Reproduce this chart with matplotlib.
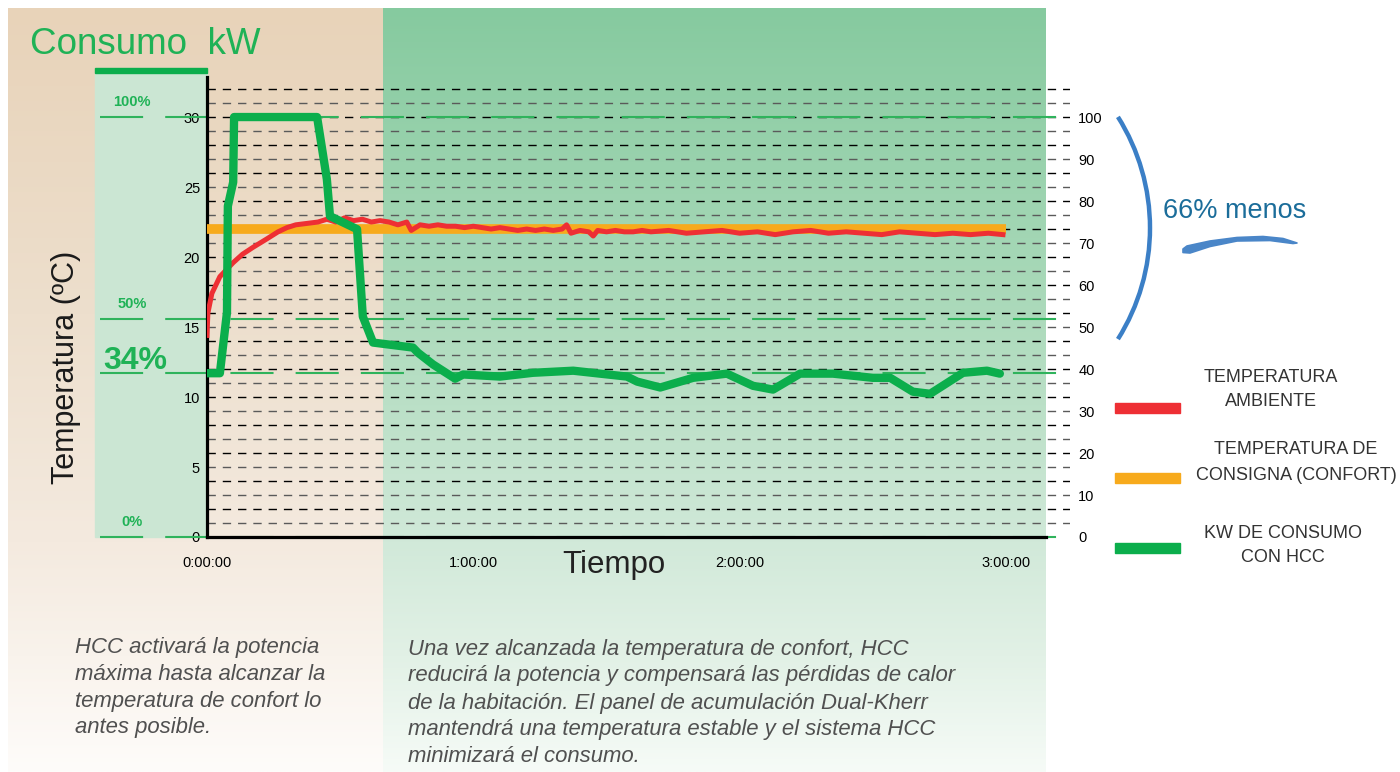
import numpy as np
import matplotlib
matplotlib.use('Agg')
import matplotlib.pyplot as plt
from matplotlib.colors import LinearSegmentedColormap
from matplotlib.patches import Rectangle, Arc

plt.rcParams['font.family'] = ['Liberation Sans', 'DejaVu Sans']

# ---- data (time in minutes) ------------------------------------------------
temp_t = [0, 0.2, 1.1, 2.9, 5.9, 8, 10.4, 13.5, 16, 18,
          20, 22.5, 25, 27, 29, 31, 33, 35, 37, 39,
          41, 43, 45, 46, 48, 50, 52, 54, 56, 58,
          60, 62, 64, 66, 68, 70, 72, 74, 76, 78,
          80, 81, 82, 84, 86, 87, 88, 90, 92, 94,
          96, 98, 100, 104, 108, 112, 116, 120, 124, 128,
          132, 136, 140, 144, 148, 152, 156, 160, 164, 168,
          172, 176, 179.3]
temp_ambiente = [14.4, 16.0, 17.4, 18.6, 19.6, 20.2, 20.7, 21.3, 21.8, 22.1,
                 22.3, 22.4, 22.5, 22.7, 22.5, 22.8, 22.6, 22.7, 22.5, 22.6,
                 22.5, 22.3, 22.5, 21.9, 22.3, 22.2, 22.3, 22.2, 22.2, 22.1,
                 22.2, 22.1, 22.0, 22.1, 22.0, 21.9, 22.0, 21.9, 22.0, 21.9,
                 22.0, 22.3, 21.7, 21.9, 21.8, 21.5, 21.9, 21.8, 21.9, 21.8,
                 21.8, 21.9, 21.8, 21.9, 21.7, 21.8, 21.9, 21.7, 21.8, 21.6,
                 21.8, 21.9, 21.7, 21.8, 21.7, 21.6, 21.8, 21.7, 21.6, 21.7,
                 21.6, 21.7, 21.6]

consigna_t = [0, 180]
consigna = [22, 22]

kw_t = [0, 2.9, 4.5, 4.7, 5.9, 6.1, 24.8, 27.0, 27.7, 33.8,
        35.1, 37.4, 46.4, 47.5, 50.9, 55.9, 57.7, 66.0, 73.4, 82.5,
        88.5, 94.6, 96.9, 102.1, 109.5, 117.1, 123.0, 127.5, 133.6, 141.0,
        150.0, 153.9, 159.0, 162.9, 170.3, 175.7, 178.6]
kw_pct = [39, 39, 53.5, 78.8, 84.5, 100, 100, 85.2, 76.4, 73.3,
          52.5, 46.3, 45.1, 43.9, 41.1, 37.7, 38.7, 38.2, 39.1, 39.6,
          38.9, 38.2, 37.0, 35.6, 37.9, 38.9, 36.0, 35.1, 38.9, 38.9,
          37.9, 37.9, 34.6, 34.1, 39.1, 39.6, 38.9]

level_labels = ['100%', '50%', '34%', '0%']
level_pct = [100, 52, 39, 0]

x_ticks = [0, 60, 120, 180]
x_labels = ['0:00:00', '1:00:00', '2:00:00', '3:00:00']
left_ticks = [0, 5, 10, 15, 20, 25, 30]
right_ticks = [0, 10, 20, 30, 40, 50, 60, 70, 80, 90, 100]

legend_labels = [['TEMPERATURA', 'AMBIENTE'],
                 ['TEMPERATURA DE', 'CONSIGNA (CONFORT)'],
                 ['KW DE CONSUMO', 'CON HCC']]

text_left = ['HCC activará la potencia',
             'máxima hasta alcanzar la',
             'temperatura de confort lo',
             'antes posible.']
text_right = ['Una vez alcanzada la temperatura de confort, HCC',
              'reducirá la potencia y compensará las pérdidas de calor',
              'de la habitación. El panel de acumulación Dual-Kherr',
              'mantendrá una temperatura estable y el sistema HCC',
              'minimizará el consumo.']

RED = '#ee2f34'
ORANGE = '#f7aa1c'
GREEN = '#0bae4c'
BLUE = '#3b7fc6'

PCT2T = 30 / 100  # 100 % of consumption sits on the 30 ºC line
YTOP = 32.86

fig = plt.figure(figsize=(14, 7.72), dpi=100)

# ---- background (pixel coordinates) ----------------------------------------
bg = fig.add_axes([0, 0, 1, 1], zorder=0)


def vgrad(ax, x0, x1, y0, y1, colors, pos):
    cmap = LinearSegmentedColormap.from_list('g', list(zip(pos, colors)))
    ramp = np.linspace(0, 1, 256)[:, None]
    ax.imshow(ramp, cmap=cmap, extent=(x0, x1, y1, y0), aspect='auto',
              interpolation='bilinear', zorder=0)


vgrad(bg, 8, 383, 8, 772,
      ['#e8d3b9', '#eddfcd', '#f4eadf', '#f9f3ec', '#fefcfa'],
      [0, 0.4, 0.7, 0.85, 1])
vgrad(bg, 383, 1046, 8, 772,
      ['#86ca9f', '#acdabb', '#d1e9d9', '#e2f1e6', '#f6fbf7'],
      [0, 0.4, 0.7, 0.85, 1])
bg.add_patch(Rectangle((95, 73), 112, 464, color='#cbe6d3', zorder=1))
bg.add_patch(Rectangle((95, 68), 112, 5, color=GREEN, zorder=2))
bg.text(30, 45, 'Consumo  kW', fontsize=26.5, color='#1fb256',
        ha='left', va='center')
bg.text(66, 367, 'Temperatura (ºC)', fontsize=22, color='#1a1a1a',
        rotation=90, ha='center', va='center')
bg.text(614, 565, 'Tiempo', fontsize=22.5, color='#222222',
        ha='center', va='center')

# "66% menos" bracket
bg.add_patch(Arc((941.5, 228), 417, 417, theta1=-32.2, theta2=32.2,
                 color=BLUE, lw=3.2, zorder=2))
bg.text(1235, 211, '66% menos', fontsize=19.5, color='#1b6d9a',
        ha='center', va='center')
brush_x = [1183, 1187, 1210, 1237, 1263, 1283, 1297,
           1293, 1270, 1237, 1210, 1190, 1183]
brush_y = [249, 246, 241, 237.5, 236.5, 238.5, 243,
           243.5, 240.5, 241, 246.5, 253, 252.5]
bg.fill(brush_x, brush_y, color='#4a86c8', lw=1.2, ec='#4a86c8', zorder=2,
        joinstyle='round')

# legend
for col, yb in zip([RED, ORANGE, GREEN], [408, 478, 548]):
    bg.add_patch(Rectangle((1115, yb - 5), 65, 10, color=col, zorder=2))
for lines, cx, ys in zip(legend_labels, [1271, 1296, 1283],
                         [(377, 402), (449, 475), (533, 557)]):
    for s, yy in zip(lines, ys):
        bg.text(cx, yy, s, fontsize=13, color='#333333',
                ha='center', va='center')

# explanatory texts
for i, s in enumerate(text_left):
    bg.text(75, 647 + 27 * i, s, fontsize=15.9, style='italic',
            color='#505050', ha='left', va='center')
for i, s in enumerate(text_right):
    bg.text(408, 649 + 27 * i, s, fontsize=15.9, style='italic',
            color='#505050', ha='left', va='center')

bg.set_xlim(0, 1400)
bg.set_ylim(772, 0)
bg.axis('off')

# ---- main chart --------------------------------------------------------------
ax = fig.add_axes([207 / 1400, (772 - 537) / 772, 863 / 1400, 460 / 772],
                  zorder=1)
ax.set_facecolor('none')

for i in range(1, 33):
    ax.axhline(i, color='#000000' if i % 2 == 0 else '#5a5a5a',
               ls=(0, (6, 5)), lw=1.0, zorder=1)

for lab, p in zip(level_labels, level_pct):
    ax.plot([-0.124, 1], [p * PCT2T] * 2, transform=ax.get_yaxis_transform(),
            clip_on=False, color='#2fb35c', lw=1.5, ls=(0, (20.7, 10.6)),
            zorder=2)
    big = lab == '34%'
    ax.annotate(lab, xy=(-0.087 if not big else -0.083, p * PCT2T),
                xycoords=ax.get_yaxis_transform(),
                xytext=(0, 3 if big else 8), textcoords='offset points',
                ha='center', va='baseline', color='#1fb256',
                fontsize=23 if big else 10.5, fontweight='bold')

ax.plot(consigna_t, consigna, color=ORANGE, lw=7, solid_capstyle='butt',
        zorder=3)
ax.plot(temp_t, temp_ambiente, color=RED, lw=3.6, zorder=4,
        solid_joinstyle='round')
ax.plot(kw_t, [v * PCT2T for v in kw_pct], color=GREEN, lw=6, zorder=5,
        solid_joinstyle='round', solid_capstyle='round')

ax.set_xlim(0, 194.4)
ax.set_ylim(0, YTOP)
ax.set_xticks(x_ticks)
ax.set_xticklabels(x_labels)
ax.set_yticks(left_ticks)
ax.tick_params(axis='x', length=0, pad=14, labelsize=10.5)
ax.tick_params(axis='y', length=0, pad=5, labelsize=10.5)
for side in ['top', 'right']:
    ax.spines[side].set_visible(False)
ax.spines['left'].set_linewidth(2.3)
ax.spines['bottom'].set_linewidth(2.3)
ax.spines['bottom'].set_bounds(0, 189)

ax2 = ax.twinx()
ax2.set_ylim(0, YTOP / PCT2T)
ax2.set_yticks(right_ticks)
ax2.tick_params(axis='y', length=0, pad=6, labelsize=10.5)
for side in ['top', 'right', 'left', 'bottom']:
    ax2.spines[side].set_visible(False)

fig.savefig('out.png', dpi=100)
